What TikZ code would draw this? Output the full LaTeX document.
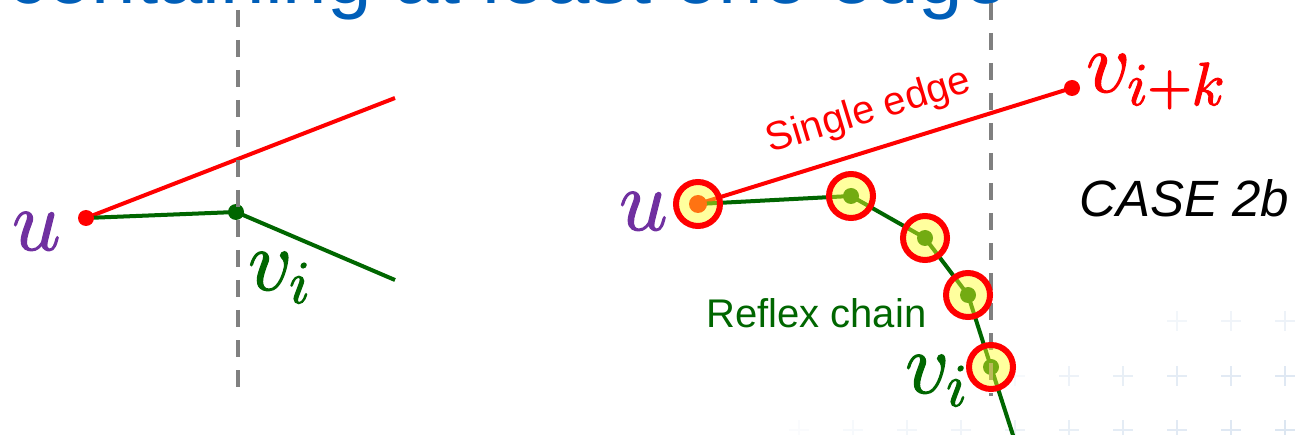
\documentclass[tikz,border=0pt]{standalone}
\usepackage{fix-cm}
\usepackage[no-math]{fontspec}
\setmainfont{Liberation Sans}
\definecolor{titleblue}{RGB}{0,94,184}
\definecolor{edgered}{RGB}{255,0,0}
\definecolor{chaingreen}{RGB}{0,102,0}
\definecolor{labelpurple}{RGB}{112,48,160}
\definecolor{guidegray}{RGB}{128,128,128}
\definecolor{ringfill}{RGB}{255,255,40}
\definecolor{gridblue}{RGB}{185,205,228}
% slightly heavier glyph outlines for the vertex names (fill + stroke render mode)
\newcommand\heavyglyphs[1]{\special{pdf:literal direct 2 Tr 1.2 w}#1\special{pdf:literal direct 0 Tr 1 w}}
\begin{document}
\begin{tikzpicture}[x=1pt,y=-1pt,
  guide/.style={draw=guidegray, line width=3.5pt, dash pattern=on 17pt off 13pt},
  redseg/.style={draw=edgered, line width=4pt},
  greenseg/.style={draw=chaingreen, line width=4pt},
  ring/.style={draw=edgered, line width=6pt, fill=ringfill, fill opacity=0.45},
  mathlabel/.style={anchor=base west, inner sep=0pt, font=\fontsize{87}{100}\selectfont},
  plainlabel/.style={inner sep=0pt, font=\fontsize{40}{48}\selectfont},
  gridmark/.style={draw=gridblue, line width=1.6pt}
]
\useasboundingbox (0,0) rectangle (1297,435);
\clip (0,0) rectangle (1297,435);

% faint background grid of crosses
\foreach \gx/\gy/\go in {
  1177/321/0.18, 1231/321/0.22, 1285/321/0.26,
  1015/376/0.12, 1069/376/0.25, 1123/376/0.32, 1177/376/0.38, 1231/376/0.42, 1285/376/0.46,
  799/430/0.08, 853/430/0.12, 907/430/0.18, 961/430/0.22, 1015/430/0.28, 1069/430/0.33,
  1123/430/0.38, 1177/430/0.42, 1231/430/0.46, 1285/430/0.5}
  \draw[gridmark, opacity=\go] (\gx-10,\gy) -- (\gx+10,\gy) (\gx,\gy-10) -- (\gx,\gy+10);

% heading line, mostly above the visible area
\node[anchor=base west, inner sep=0pt, text=titleblue,
      font=\fontsize{80}{96}\selectfont] (title) at (7,4) {containing at least one edge};

% ---- left configuration ----
\coordinate (uL)  at (86,218);
\coordinate (viL) at (236,212);
\coordinate (aL)  at (395,98);
\coordinate (bL)  at (395,280);
\draw[redseg]   (uL) -- (aL);
\draw[greenseg] (uL) -- (viL) -- (bL);
\fill[edgered]    (uL)  circle[radius=8pt];
\fill[chaingreen] (viL) circle[radius=8pt];

% ---- right configuration ----
\coordinate (uR)   at (698,204);
\coordinate (p1)   at (851,196);
\coordinate (p2)   at (925,238);
\coordinate (p3)   at (968,295);
\coordinate (viR)  at (991,367);
\coordinate (tail) at (1021,460);
\coordinate (vk)   at (1072,88);
\draw[redseg]   (uR) -- (vk);
\draw[greenseg] (uR) -- (p1) -- (p2) -- (p3) -- (viR) -- (tail);
\fill[edgered] (uR) circle[radius=9pt];
\fill[edgered] (vk) circle[radius=8pt];
\foreach \p in {p1,p2,p3,viR} \fill[chaingreen] (\p) circle[radius=8pt];

% vertical guides
\coordinate (gLtop) at (238,10);
\coordinate (gLbot) at (238,398);
\coordinate (gRtop) at (991,3);
\coordinate (gRbot) at (991,396);
\draw[guide] (gLtop) -- (gLbot);
\draw[guide] (gRtop) -- (gRbot);

% highlighted vertices of the chain
\foreach \p in {uR,p1,p2,p3,viR} \draw[ring] (\p) circle[radius=22pt];

% labels
\node[mathlabel, text=labelpurple] (uLlab) at (12,250) {\heavyglyphs{$u$}};
\node[mathlabel, text=chaingreen]  (viLlab) at (248,290) {\heavyglyphs{$v_i$}};
\node[mathlabel, text=labelpurple] (uRlab) at (619,230) {\heavyglyphs{$u$}};
\node[mathlabel, text=chaingreen]  (viRlab) at (905,393) {\heavyglyphs{$v_i$}};
\node[mathlabel, text=edgered]     (vklab) at (1086,92) {\heavyglyphs{$v_{i+k}$}};

\node[plainlabel, anchor=base, rotate=17, text=edgered] (single) at (872,122) {Single edge};
\node[plainlabel, anchor=base west, text=chaingreen] (reflex) at (706,327) {Reflex chain};
\node[anchor=base west, inner sep=0pt, font=\fontsize{51}{60}\selectfont\itshape] (case) at (1079,217) {CASE 2b};
\end{tikzpicture}
\end{document}
